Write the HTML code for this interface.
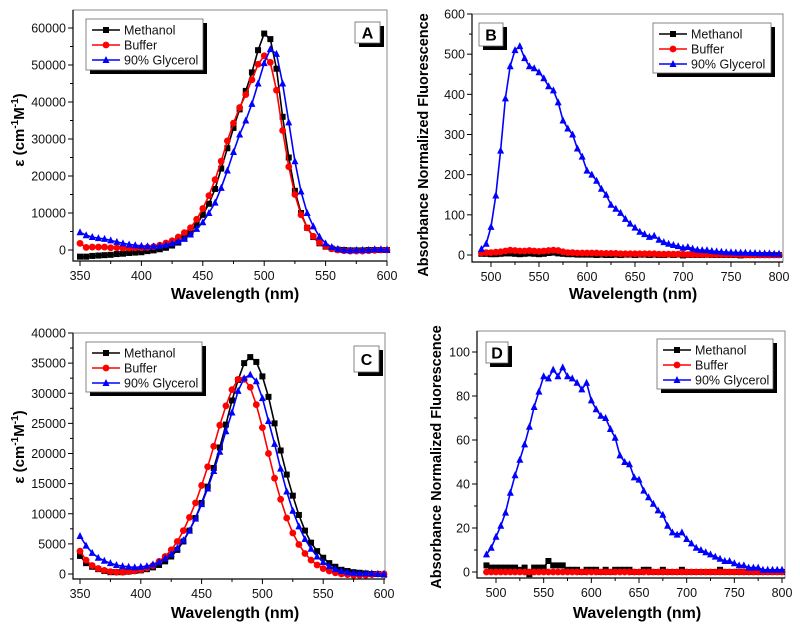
<!DOCTYPE html>
<html><head><meta charset="utf-8"><style>
html,body{margin:0;padding:0;background:#fff;}
svg{display:block;font-family:"Liberation Sans",Arial,sans-serif;}
</style></head><body>
<svg id="fig" width="800" height="629" viewBox="0 0 800 629" xmlns="http://www.w3.org/2000/svg"></svg>
<script>
// ---- Data ----
const absX = [350,355,360,365,370,375,380,385,390,395,400,405,410,415,420,425,430,435,440,445,450,455,460,465,470,475,480,485,490,495,500,505,510,515,520,525,530,535,540,545,550,555,560,565,570,575,580,585,590,595,600];
const aMethanol = [-1800,-1800,-1600,-1500,-1400,-1300,-1100,-1000,-800,-700,-600,-300,-100,200,600,1200,2000,3200,4800,6800,9500,12500,16500,22000,27500,33000,38000,43000,48000,54000,58500,57000,49000,36000,25000,16000,10000,6000,3500,1800,900,400,100,0,-100,-100,-100,0,0,0,0];
const aBuffer = [1800,700,800,800,800,600,600,500,500,600,600,700,900,1300,1900,2500,3500,4700,6000,8300,11200,14700,19000,24000,29500,34300,38500,42000,46000,50200,52500,50700,43200,32300,22500,15000,9500,6000,3700,2000,1000,300,0,-200,-300,-300,-300,-200,-100,0,0];
const aGlycerol = [4800,4000,3500,3200,3000,2600,2200,1800,1500,1300,1100,1000,1000,1100,1400,1800,2300,3000,4200,5700,7500,10000,12800,16800,21500,26500,31200,35000,39500,45000,50500,54300,53000,45000,34500,24000,15800,10000,6400,3600,1800,800,300,0,-100,0,0,0,200,200,100];
const cMethanol = [3000,1800,1200,800,500,300,300,300,400,500,600,800,1100,1500,2100,2900,4000,5400,7200,9300,11800,14500,17600,21000,24800,28800,32200,35000,36000,35200,32800,29400,25000,20500,16500,13000,9800,7200,5200,3800,2700,1800,1200,700,500,300,200,100,0,0,-100];
const cBuffer = [3800,2300,1400,900,600,400,300,300,400,500,700,1000,1400,2100,2900,4000,5400,7200,9400,11800,14700,17800,21200,24700,27900,30600,32300,32300,31000,28100,24300,20000,15900,12400,9300,6800,4900,3400,2300,1500,900,500,200,0,-100,-200,-200,-200,-100,0,0];
const cGlycerol = [6300,4700,3500,2700,2200,1800,1500,1300,1200,1100,1200,1300,1600,2000,2600,3300,4300,5600,7200,9200,11600,14200,17100,20300,23700,26800,30400,32500,33100,32000,29200,25400,21600,17500,13700,10500,7900,5800,4200,2900,2000,1300,800,500,300,200,100,100,100,0,0];
const flX = [490,495,500,505,510,515,520,525,530,535,540,545,550,555,560,565,570,575,580,585,590,595,600,605,610,615,620,625,630,635,640,645,650,655,660,665,670,675,680,685,690,695,700,705,710,715,720,725,730,735,740,745,750,755,760,765,770,775,780,785,790,795,800];
const bGlycerol = [15,28,70,148,260,390,470,510,520,490,470,465,455,440,420,410,380,335,315,300,265,245,210,200,185,165,150,125,115,105,90,78,68,58,52,45,48,38,32,28,25,22,18,20,16,13,12,12,10,9,8,7,7,6,6,6,5,5,4,4,4,3,3];
const bMethanol = [3,3,2,2,3,4,4,3,2,3,4,3,2,3,5,6,4,3,2,2,1,1,1,1,0,1,0,0,1,0,1,1,0,1,1,0,1,0,0,1,0,1,-1,0,0,0,0,1,0,0,0,0,0,0,-1,0,0,0,0,0,0,0,0];
const bBuffer = [5,6,6,7,8,10,12,11,10,10,11,10,9,10,11,12,11,8,6,6,5,5,5,5,5,4,4,4,4,3,3,3,3,3,3,3,3,2,2,2,2,2,2,1,1,1,1,1,1,1,1,1,1,1,1,0,0,0,0,0,0,0,0];
const dGlycerol = [8,11,16,21,27,36,44,51,58,66,75,82,89,88,92,89,93,89,88,86,83,86,78,74,71,70,65,61,53,50,49,43,42,37,34,31,28,26,21,18,17,18,15,13,11,10,9,8,7,6,5,5,4,3,3,2,2,2,1,1,1,1,1];
const dMethanol = [3,2,2,2,2,2,2,1,2,-1,2,2,2,5,3,3,3,1,1,1,0,1,1,1,0,1,0,1,1,1,1,0,0,1,1,0,0,1,0,0,0,1,0,0,0,0,0,0,0,1,0,0,0,0,0,0,0,0,0,0,0,0,0];
const dBuffer = [0,0,0,0,0,0,0,0,0,0,0,0,0,0,0,0,0,0,0,0,0,0,0,0,0,0,0,0,0,0,0,0,0,0,0,0,0,0,0,0,0,0,0,0,0,0,0,0,0,0,0,0,0,0,0,0,0,0,0,0,0,0,0];
const absTicks = [350,400,450,500,550,600];
const flTicks = [500,550,600,650,700,750,800];
const aYTicks = [0,10000,20000,30000,40000,50000,60000];
const bYTicks = [0,100,200,300,400,500,600];
const cYTicks = [0,5000,10000,15000,20000,25000,30000,35000,40000];
const dYTicks = [0,20,40,60,80,100];
const seriesNames = ["Methanol","Buffer","90% Glycerol"];

const NS="http://www.w3.org/2000/svg";
const svg=document.getElementById('fig');
function mk(tag,attrs,parent){const e=document.createElementNS(NS,tag);for(const k in attrs)e.setAttribute(k,attrs[k]);(parent||svg).appendChild(e);return e;}
const colors=['#000','#ff0000','#0000ff'];

function marker(g,type,x,y,c,s){
  let e;
  if(type===0) e=mk('rect',{x:x-s/2,y:y-s/2,width:s,height:s,fill:c},g);
  else if(type===1) e=mk('circle',{cx:x,cy:y,r:s/2+0.4,fill:c},g);
  else e=mk('polygon',{points:`${x},${y-s/2-1} ${x-s/2-0.5},${y+s/2} ${x+s/2+0.5},${y+s/2}`,fill:c},g);
  return e;
}

function panel(p){
  const g=mk('g',{});
  
  
  const X=v=>p.x0px+(v-p.x0)*(p.x1px-p.x0px)/(p.x1-p.x0);
  const Y=v=>p.y0px+(v-p.y0)*(p.y1px-p.y0px)/(p.y1-p.y0);
  const fr=mk('rect',{x:p.L,y:p.T,width:p.R-p.L,height:p.B-p.T,fill:'none',stroke:'#888','stroke-width':1},g);
  
  
  const ax=mk('path',{d:`M${p.L},${p.T}V${p.B}H${p.R}`,stroke:'#000','stroke-width':1.2,fill:'none'},g);
  
  
  p.xt.forEach((v,i)=>{
    const x=X(v);
    mk('line',{x1:x,y1:p.B,x2:x,y2:p.B+5,stroke:'#000'},g);
    const t=mk('text',{x:x,y:p.B+19,'text-anchor':'middle','font-size':12.5,fill:'#111'},g);t.textContent=v;
    
    
    if(i<p.xt.length-1){const xm=X(v+(p.xt[1]-p.xt[0])/2);mk('line',{x1:xm,y1:p.B,x2:xm,y2:p.B+3,stroke:'#000'},g);}
  });
  p.yt.forEach((v,i)=>{
    const y=Y(v);
    mk('line',{x1:p.L-5,y1:y,x2:p.L,y2:y,stroke:'#000'},g);
    const t=mk('text',{x:p.L-7,y:y+4.5,'text-anchor':'end','font-size':12.5,fill:'#111'},g);t.textContent=v;
    
    
    const ym=Y(v+(p.yt[1]-p.yt[0])/2);
    if(ym>p.T) mk('line',{x1:p.L-3,y1:ym,x2:p.L,y2:ym,stroke:'#000'},g);
  });
  p.series.forEach((s,k)=>{
    const sg=mk('g',{},g);
    
    
    const pts=p.xs.map((v,i)=>X(v).toFixed(1)+','+Y(s[i]).toFixed(1)).join(' ');
    mk('polyline',{points:pts,fill:'none',stroke:colors[k],'stroke-width':1.6},sg);
    p.xs.forEach((v,i)=>{marker(sg,k,X(v),Y(s[i]),colors[k],6);});
  });
  const xt=mk('text',{x:p.xtx,y:p.xty,'text-anchor':'middle','font-size':16,'font-weight':'bold'},g);
  xt.textContent='Wavelength (nm)';
  
  
  const yt=mk('text',{x:0,y:0,'text-anchor':'middle','font-size':p.yfs,'font-weight':'bold',transform:`translate(${p.ytx},${p.yty}) rotate(-90)`},g);
  if(p.eps){yt.innerHTML='ε (cm<tspan dy="-6" font-size="10">-1</tspan><tspan dy="6">M</tspan><tspan dy="-6" font-size="10">-1</tspan><tspan dy="6">)</tspan>';}
  else yt.textContent='Absorbance Normalized Fluorescence';
  
  
  const lg=mk('g',{},g);
  
  
  const [lx,ly,lw,lh]=p.leg;
  mk('rect',{x:lx+4,y:ly+4,width:lw,height:lh,fill:'#000'},lg);
  mk('rect',{x:lx,y:ly,width:lw,height:lh,fill:'#fff',stroke:'#666','stroke-width':0.8},lg);
  seriesNames.forEach((n,k)=>{
    const yy=ly+11+k*15;
    const e=mk('g',{},lg);
    
    
    mk('line',{x1:lx+6,y1:yy,x2:lx+34,y2:yy,stroke:colors[k],'stroke-width':1.6},e);
    marker(e,k,lx+20,yy,colors[k],6);
    const t=mk('text',{x:lx+38,y:yy+4.5,'font-size':12.5,fill:'#111'},e);t.textContent=n;
  });
  const [bx,by,bw,bh]=p.lab;
  const lb=mk('g',{},g);
  
  
  mk('rect',{x:bx+4,y:by+4,width:bw,height:bh,fill:'#000'},lb);
  mk('rect',{x:bx,y:by,width:bw,height:bh,fill:'#fff',stroke:'#666','stroke-width':0.8},lb);
  const lt=mk('text',{x:bx+bw/2,y:by+bh/2+6,'text-anchor':'middle','font-size':16,'font-weight':'bold'},lb);lt.textContent=p.id;
}

panel({id:'A',L:73,R:387,T:10,B:261,x0:350,x1:600,x0px:80,x1px:387,y0:0,y1:60000,y0px:250,y1px:28,
  xt:absTicks,yt:aYTicks,xs:absX,series:[aMethanol,aBuffer,aGlycerol],xtx:235,xty:299,ytx:24,yty:130,yfs:15,eps:true,
  leg:[86,19,117,51],lab:[355,22,25,21]});
panel({id:'B',L:472,R:783,T:14,B:262,x0:500,x1:800,x0px:491,x1px:779,y0:0,y1:600,y0px:255,y1px:14,
  xt:flTicks,yt:bYTicks,xs:flX,series:[bMethanol,bBuffer,bGlycerol],xtx:633,xty:299,ytx:428,yty:145,yfs:14.5,eps:false,
  leg:[653,23,118,50],lab:[479,23,24,23]});
panel({id:'C',L:73,R:385,T:333,B:579,x0:350,x1:600,x0px:80,x1px:384,y0:0,y1:40000,y0px:574,y1px:333,
  xt:absTicks,yt:cYTicks,xs:absX,series:[cMethanol,cBuffer,cGlycerol],xtx:235,xty:618,ytx:24,yty:447,yfs:15,eps:true,
  leg:[86,342,116,50],lab:[354,346,25,26]});
panel({id:'D',L:477,R:785,T:331,B:578,x0:500,x1:800,x0px:496,x1px:782,y0:0,y1:100,y0px:572,y1px:352,
  xt:flTicks,yt:dYTicks,xs:flX,series:[dMethanol,dBuffer,dGlycerol],xtx:637,xty:618,ytx:441,yty:457,yfs:14.5,eps:false,
  leg:[657,339,116,50],lab:[486,342,22,21]});
</script>
</body></html>
